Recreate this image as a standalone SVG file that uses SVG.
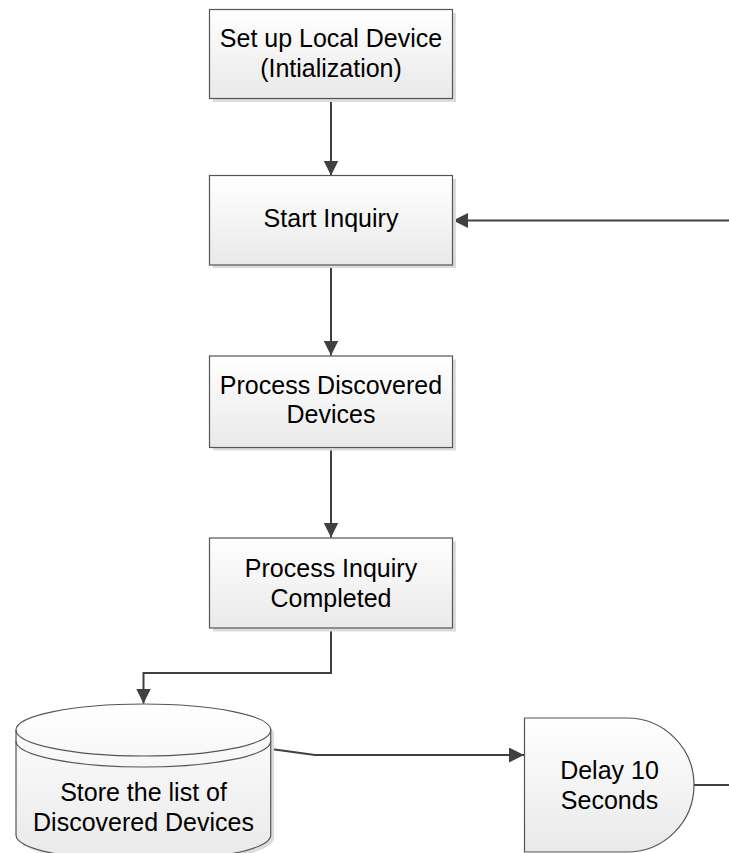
<svg xmlns="http://www.w3.org/2000/svg" width="729" height="853" viewBox="0 0 729 853">
<style>
.shape{fill:url(#g);stroke:#555;stroke-width:1.2}
.shadow{fill:#dcdcdc}
.t{font-family:"Liberation Sans",Arial,sans-serif;font-size:25px;fill:#000;text-anchor:middle}
.c{fill:none;stroke:#404040;stroke-width:2}
</style>
<defs>
<linearGradient id="g" x1="0" y1="0" x2="0" y2="1">
<stop offset="0" stop-color="#ffffff"/>
<stop offset="1" stop-color="#e9e9e9"/>
</linearGradient>
<marker id="ah" markerUnits="userSpaceOnUse" markerWidth="15" markerHeight="15" refX="15" refY="7.5" orient="auto">
<path d="M0,0 L15,7.5 L0,15 z" fill="#404040"/>
</marker>
</defs>
<g id="connectors">
<line class="c" x1="331" y1="98" x2="331" y2="175.5" marker-end="url(#ah)"/>
<line class="c" x1="331" y1="265" x2="331" y2="355.5" marker-end="url(#ah)"/>
<line class="c" x1="331" y1="447" x2="331" y2="537.5" marker-end="url(#ah)"/>
<polyline class="c" points="331,628 331,673 143.5,673 143.5,703.5" marker-end="url(#ah)"/>
<polyline class="c" points="271,749 315,755 524,755" marker-end="url(#ah)"/>
<line class="c" x1="694" y1="785" x2="729" y2="785"/>
<line class="c" x1="729" y1="220.5" x2="453" y2="220.5" marker-end="url(#ah)"/>
</g>
<g id="n1">
<rect class="shadow" x="213" y="13" width="243" height="89"/>
<rect class="shape" x="209.5" y="9.5" width="243" height="89"/>
<text class="t" x="331" y="47">Set up Local Device</text>
<text class="t" x="331" y="77">(Intialization)</text>
</g>
<g id="n2">
<rect class="shadow" x="213" y="179" width="243" height="89"/>
<rect class="shape" x="209.5" y="175.5" width="243" height="89.5"/>
<text class="t" x="331" y="227">Start Inquiry</text>
</g>
<g id="n3">
<rect class="shadow" x="213" y="359.5" width="243" height="91"/>
<rect class="shape" x="209.5" y="356" width="243" height="91.5"/>
<text class="t" x="331" y="394">Process Discovered</text>
<text class="t" x="331" y="423">Devices</text>
</g>
<g id="n4">
<rect class="shadow" x="213" y="541.5" width="243" height="90"/>
<rect class="shape" x="209.5" y="538" width="243" height="90"/>
<text class="t" x="331" y="577">Process Inquiry</text>
<text class="t" x="331" y="607">Completed</text>
</g>
<g id="n5">
<path class="shadow" d="M19.5,733 A127.3,26 0 0 1 274,733 L274,839 A127.3,26 0 0 1 19.5,839 Z"/>
<path class="shape" d="M16,730 A127.3,26 0 0 1 270.7,730 L270.7,835 A127.3,26 0 0 1 16,835 Z"/>
<path fill="none" stroke="#555" stroke-width="1.2" d="M16,730 A127.3,26 0 0 0 270.7,730"/>
<path fill="none" stroke="#555" stroke-width="1.2" d="M16,741 A127.3,26 0 0 0 270.7,741"/>
<text class="t" x="143.5" y="801">Store the list of</text>
<text class="t" x="143.5" y="831">Discovered Devices</text>
</g>
<g id="n6">
<path class="shape" d="M524.5,718 L627,718 A67,67 0 0 1 627,852 L524.5,852 Z"/>
<text class="t" x="609.5" y="779">Delay 10</text>
<text class="t" x="609.5" y="809">Seconds</text>
</g>
</svg>
